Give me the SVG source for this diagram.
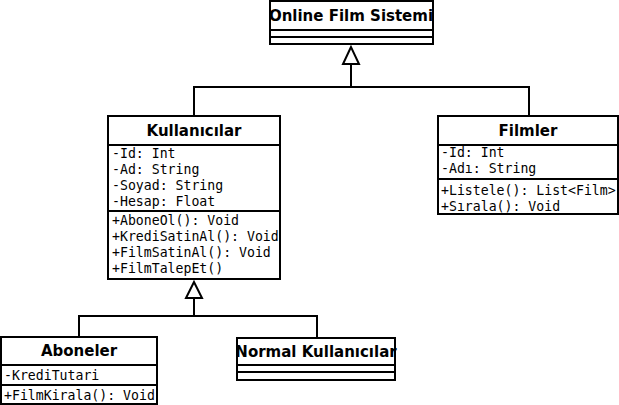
<svg xmlns="http://www.w3.org/2000/svg" width="619" height="405" viewBox="0 0 619 405">
<style>
.box{fill:#fff;stroke:#000;stroke-width:2}
.sep{stroke:#000;stroke-width:2}
.t{font-family:"DejaVu Sans",sans-serif;font-weight:bold;font-size:15px;text-anchor:middle;fill:#000}
.m{font-family:"DejaVu Sans Mono",monospace;font-size:13.2px;fill:#000}
.c{fill:none;stroke:#000;stroke-width:2}
.tri{fill:#fff;stroke:#000;stroke-width:2}
</style>
<rect width="619" height="405" fill="#fff"/>
<g id="connectors">
<polyline class="c" points="194,116 194,87 529,87 529,116"/>
<line class="c" x1="351" y1="87" x2="351" y2="64"/>
<polygon class="tri" points="351,47 343,64 359,64"/>
<polyline class="c" points="79,337 79,316 317,316 317,338"/>
<line class="c" x1="194" y1="316" x2="194" y2="298"/>
<polygon class="tri" points="194,282 186,298 202,298"/>
</g>
<g id="online-film-sistemi">
<rect class="box" x="270" y="1" width="163" height="43"/>
<line class="sep" x1="270" y1="30" x2="433" y2="30"/>
<line class="sep" x1="270" y1="37" x2="433" y2="37"/>
<text class="t" x="351" y="21">Online Film Sistemi</text>
</g>
<g id="kullanicilar">
<rect class="box" x="108" y="116" width="172" height="163"/>
<line class="sep" x1="108" y1="145" x2="280" y2="145"/>
<line class="sep" x1="108" y1="211" x2="280" y2="211"/>
<text class="t" x="194" y="136">Kullanıcılar</text>
<text class="m" x="112" y="158">-Id: Int</text>
<text class="m" x="112" y="174">-Ad: String</text>
<text class="m" x="112" y="190">-Soyad: String</text>
<text class="m" x="112" y="206">-Hesap: Float</text>
<text class="m" x="112" y="225">+AboneOl(): Void</text>
<text class="m" x="112" y="241">+KrediSatinAl(): Void</text>
<text class="m" x="112" y="257">+FilmSatinAl(): Void</text>
<text class="m" x="112" y="273">+FilmTalepEt()</text>
</g>
<g id="filmler">
<rect class="box" x="438" y="116" width="180" height="98"/>
<line class="sep" x1="438" y1="145" x2="618" y2="145"/>
<line class="sep" x1="438" y1="179" x2="618" y2="179"/>
<text class="t" x="528" y="136">Filmler</text>
<text class="m" x="441" y="157">-Id: Int</text>
<text class="m" x="441" y="173">-Adı: String</text>
<text class="m" x="441" y="195">+Listele(): List&lt;Film&gt;</text>
<text class="m" x="441" y="211">+Sırala(): Void</text>
</g>
<g id="aboneler">
<rect class="box" x="1" y="337" width="156" height="67"/>
<line class="sep" x1="1" y1="365" x2="157" y2="365"/>
<line class="sep" x1="1" y1="385" x2="157" y2="385"/>
<text class="t" x="79" y="356">Aboneler</text>
<text class="m" x="4" y="380">-KrediTutari</text>
<text class="m" x="4" y="400">+FilmKirala(): Void</text>
</g>
<g id="normal-kullanicilar">
<rect class="box" x="237" y="338" width="158" height="42"/>
<line class="sep" x1="237" y1="365" x2="395" y2="365"/>
<line class="sep" x1="237" y1="372" x2="395" y2="372"/>
<text class="t" x="316" y="357">Normal Kullanıcılar</text>
</g>
</svg>
